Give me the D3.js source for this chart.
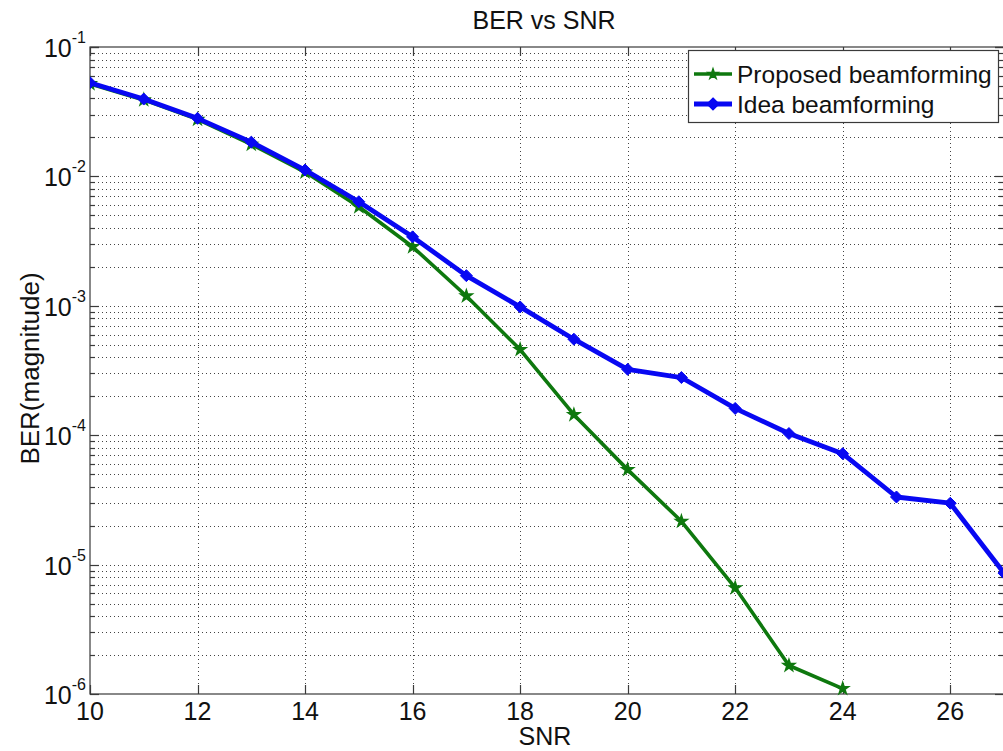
<!DOCTYPE html>
<html>
<head>
<meta charset="utf-8">
<script src="https://cdn.jsdelivr.net/npm/d3@7"></script>
<style>
  html, body { margin: 0; padding: 0; background: #fff; }
  svg { display: block; font-family: Arial, "Liberation Sans", sans-serif; }
</style>
</head>
<body>
<svg id="chart" width="1003" height="751"></svg>
<script>
// SNR sample points (dB)
const snrProposed = [10, 11, 12, 13, 14, 15, 16, 17, 18, 19, 20, 21, 22, 23, 24];
const berProposed = [0.052, 0.0390, 0.0276, 0.0177, 0.0108, 0.00582, 0.00286, 0.00119,
                     0.000459, 0.000144, 5.42e-5, 2.16e-5, 6.62e-6, 1.66e-6, 1.10e-6];

const snrIdeal = [10, 11, 12, 13, 14, 15, 16, 17, 18, 19, 20, 21, 22, 23, 24, 25, 26, 27];
const berIdeal = [0.053, 0.0396, 0.0281, 0.0184, 0.0112, 0.00637, 0.00341, 0.00171,
                  0.00098, 0.000552, 0.000323, 0.000279, 0.000161, 0.000103, 7.2e-5,
                  3.33e-5, 2.98e-5, 8.6e-6];

const xTicks = [10, 12, 14, 16, 18, 20, 22, 24, 26];
const yDecades = [-6, -5, -4, -3, -2, -1];
const seriesNames = ["Proposed beamforming", "Idea beamforming"];

const svg = d3.select("#chart");
const pL = 90, pR = 1004, pT = 47, pB = 694;
const fs = 25;

const x = d3.scaleLinear().domain([10, 27]).range([pL, pR]);
const y = d3.scaleLog().domain([1e-6, 1e-1]).range([pB, pT]);

const green = "#0e780e", blue = "#0808f2", axisCol = "#3a3a3a", gridCol = "#444";

svg.append("defs").append("clipPath").attr("id", "plotClip")
  .append("rect").attr("x", pL).attr("y", pT - 8)
  .attr("width", pR - pL).attr("height", pB - pT + 16);

// minor + major log grid values
const yGridVals = [];
yDecades.forEach(d => {
  for (let m = 1; m <= 9; m++) {
    const v = m * Math.pow(10, d);
    if (v >= 1e-6 && v <= 1e-1 * 1.0001) yGridVals.push(v);
  }
});
yGridVals.push(1e-1);

const grid = svg.append("g");
grid.selectAll("line.hg").data(yGridVals.filter(v => v > 1.0001e-6 && v < 0.0999)).join("line")
  .attr("x1", pL).attr("x2", pR)
  .attr("y1", d => Math.round(y(d)) + 0.5).attr("y2", d => Math.round(y(d)) + 0.5)
  .attr("stroke", gridCol).attr("stroke-width", 1).attr("stroke-dasharray", "1,3");
grid.selectAll("line.vg").data(xTicks.filter(v => v > 10)).join("line")
  .attr("y1", pT).attr("y2", pB)
  .attr("x1", d => Math.round(x(d)) + 0.5).attr("x2", d => Math.round(x(d)) + 0.5)
  .attr("stroke", gridCol).attr("stroke-width", 1).attr("stroke-dasharray", "1,3");

// axes box and inward ticks
const ax = svg.append("g").attr("stroke", axisCol).attr("stroke-width", 1.2);
ax.append("rect").attr("x", pL).attr("y", pT)
  .attr("width", pR - pL).attr("height", pB - pT).attr("fill", "none");

xTicks.forEach(t => {
  const px = Math.round(x(t)) + 0.5;
  ax.append("line").attr("x1", px).attr("x2", px).attr("y1", pB).attr("y2", pB - 9);
  ax.append("line").attr("x1", px).attr("x2", px).attr("y1", pT).attr("y2", pT + 9);
});
yGridVals.forEach(v => {
  const lg10 = Math.log10(v);
  const major = Math.abs(lg10 - Math.round(lg10)) < 1e-6;
  const len = major ? 9 : 5;
  const py = Math.round(y(v)) + 0.5;
  ax.append("line").attr("x1", pL).attr("x2", pL + len).attr("y1", py).attr("y2", py);
  ax.append("line").attr("x1", pR).attr("x2", pR - len).attr("y1", py).attr("y2", py);
});

// tick labels
const tl = svg.append("g").attr("fill", "#111");
xTicks.forEach(t => {
  tl.append("text").attr("x", x(t)).attr("y", 720)
    .attr("text-anchor", "middle").attr("font-size", fs).text(t);
});
yDecades.forEach(d => {
  const py = y(Math.pow(10, d));
  const t = tl.append("text").attr("x", 86).attr("y", py + 10)
    .attr("text-anchor", "end").attr("font-size", fs);
  t.append("tspan").text("10");
  t.append("tspan").attr("dy", -14).attr("font-size", 16).text(String(d));
});

// titles
svg.append("text").attr("x", 544).attr("y", 29).attr("text-anchor", "middle")
  .attr("font-size", fs).attr("fill", "#111").text("BER vs SNR");
svg.append("text").attr("x", 545).attr("y", 745).attr("text-anchor", "middle")
  .attr("font-size", fs).attr("fill", "#111").text("SNR");
svg.append("text").attr("transform", `translate(39,${(pT + pB) / 2 - 2}) rotate(-90)`)
  .attr("text-anchor", "middle").attr("font-size", fs + 1).attr("fill", "#111")
  .text("BER(magnitude)");

// series
const line = d3.line().x(d => x(d[0])).y(d => y(d[1]));
const propData = d3.zip(snrProposed, berProposed);
const idealData = d3.zip(snrIdeal, berIdeal);

const plot = svg.append("g").attr("clip-path", "url(#plotClip)");

const diamond = r => `M0,${-r}L${r},0L0,${r}L${-r},0Z`;
const star = d3.symbol().type(d3.symbolStar).size(36);

function drawProposed(g, data) {
  g.append("path").datum(data).attr("d", line).attr("fill", "none")
    .attr("stroke", green).attr("stroke-width", 3.6).attr("stroke-linejoin", "round");
  g.selectAll("path.m").data(data).join("path").attr("class", "m")
    .attr("transform", d => `translate(${x(d[0])},${y(d[1])})`)
    .attr("d", star).attr("fill", green).attr("stroke", green).attr("stroke-width", 1.8);
}
function drawIdeal(g, data) {
  g.append("path").datum(data).attr("d", line).attr("fill", "none")
    .attr("stroke", blue).attr("stroke-width", 4.8).attr("stroke-linejoin", "round");
  g.selectAll("path.m").data(data).join("path").attr("class", "m")
    .attr("transform", d => `translate(${x(d[0])},${y(d[1])})`)
    .attr("d", diamond(6)).attr("fill", blue).attr("stroke", blue).attr("stroke-width", 1);
}
drawProposed(plot.append("g"), propData);
drawIdeal(plot.append("g"), idealData);

// legend
const lg = svg.append("g");
const lgX = 688, lgY = 50, lgW = 310, lgH = 72;
lg.append("rect").attr("x", lgX + 0.5).attr("y", lgY + 0.5).attr("width", lgW).attr("height", lgH)
  .attr("fill", "#fff").attr("stroke", axisCol).attr("stroke-width", 1.2);
const rows = [
  { name: seriesNames[0], color: green, cy: 74, kind: "p" },
  { name: seriesNames[1], color: blue, cy: 104, kind: "i" }
];
rows.forEach(r => {
  lg.append("line").attr("x1", 694).attr("x2", 732).attr("y1", r.cy).attr("y2", r.cy)
    .attr("stroke", r.color).attr("stroke-width", r.kind === "p" ? 3.6 : 4.8);
  lg.append("path").attr("transform", `translate(713,${r.cy})`)
    .attr("d", r.kind === "p" ? star() : diamond(6))
    .attr("fill", r.color).attr("stroke", r.color).attr("stroke-width", 1.2);
  lg.append("text").attr("x", 737).attr("y", r.cy + 8.5).attr("font-size", 24.5)
    .attr("fill", "#111").text(r.name);
});
</script>
</body>
</html>
